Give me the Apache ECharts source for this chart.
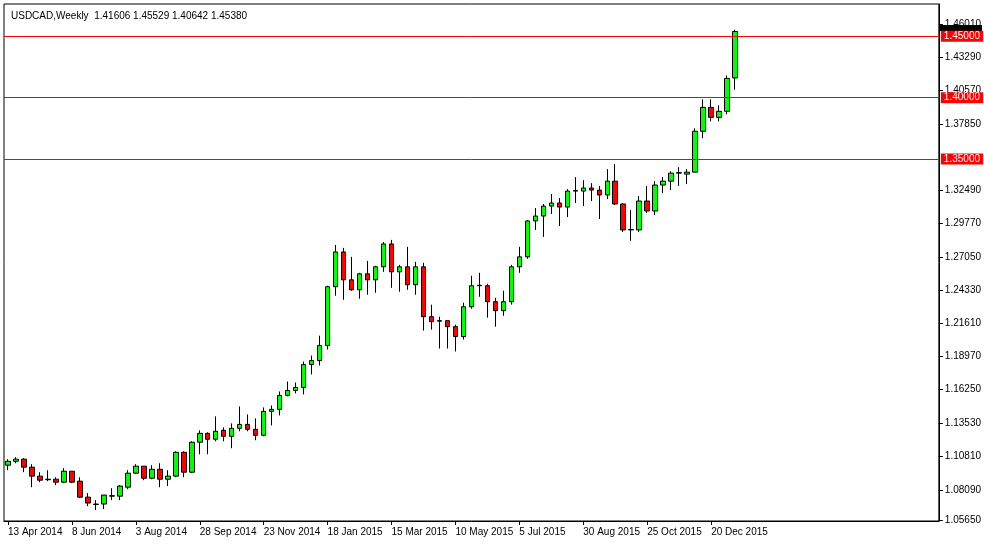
<!DOCTYPE html>
<html><head><meta charset="utf-8">
<script src="https://cdn.jsdelivr.net/npm/echarts@6/dist/echarts.min.js"></script>
<style>html,body{margin:0;padding:0;background:#fff}#c{width:984px;height:545px}</style>
</head><body><div id="c"></div>
<script>
// weekly candles [open, close, low, high], starting week of 13 Apr 2014
const candles = [
[1.1010,1.1042,1.0969,1.1059],[1.1042,1.1059,1.1026,1.1075],[1.1059,1.0994,1.0953,1.1067],[1.0994,1.0921,1.0831,1.1018],
[1.0921,1.0888,1.0872,1.0953],[1.0896,1.0892,1.0880,1.0969],[1.0896,1.0872,1.0848,1.0912],[1.0872,1.0961,1.0864,1.0986],
[1.0961,1.0872,1.0864,1.0961],[1.0880,1.0750,1.0742,1.0912],[1.0750,1.0702,1.0677,1.0783],[1.0694,1.0690,1.0645,1.0726],
[1.0694,1.0767,1.0653,1.0767],[1.0758,1.0762,1.0726,1.0823],[1.0758,1.0840,1.0726,1.0848],[1.0831,1.0945,1.0815,1.0969],
[1.0945,1.1002,1.0937,1.1018],[1.1002,1.0904,1.0888,1.1002],[1.0904,1.0977,1.0896,1.1010],[1.0977,1.0896,1.0831,1.1026],
[1.0896,1.0921,1.0840,1.0969],[1.0921,1.1115,1.0912,1.1123],[1.1115,1.0953,1.0912,1.1123],[1.0953,1.1197,1.0945,1.1205],
[1.1197,1.1269,1.1099,1.1294],[1.1269,1.1221,1.1099,1.1277],[1.1221,1.1286,1.1205,1.1407],[1.1294,1.1245,1.1205,1.1318],
[1.1245,1.1310,1.1148,1.1350],[1.1310,1.1342,1.1286,1.1488],[1.1342,1.1302,1.1286,1.1423],[1.1302,1.1253,1.1213,1.1391],
[1.1253,1.1448,1.1245,1.1480],[1.1448,1.1464,1.1334,1.1496],[1.1464,1.1578,1.1415,1.1610],[1.1578,1.1618,1.1570,1.1691],
[1.1618,1.1642,1.1594,1.1683],[1.1642,1.1829,1.1586,1.1853],[1.1829,1.1861,1.1748,1.1902],[1.1861,1.1983,1.1821,1.2064],
[1.1983,1.2462,1.1951,1.2470],[1.2462,1.2745,1.2389,1.2802],[1.2745,1.2518,1.2356,1.2778],[1.2518,1.2437,1.2429,1.2705],
[1.2437,1.2567,1.2364,1.2575],[1.2567,1.2518,1.2397,1.2672],[1.2518,1.2624,1.2413,1.2632],[1.2624,1.2810,1.2583,1.2826],
[1.2810,1.2583,1.2453,1.2843],[1.2583,1.2624,1.2421,1.2640],[1.2624,1.2478,1.2437,1.2786],[1.2478,1.2624,1.2397,1.2664],
[1.2624,1.2218,1.2105,1.2656],[1.2218,1.2178,1.2113,1.2316],[1.2186,1.2182,1.1959,1.2218],[1.2186,1.2137,1.1959,1.2186],
[1.2137,1.2056,1.1935,1.2153],[1.2056,1.2299,1.2032,1.2332],[1.2299,1.2470,1.2283,1.2551],[1.2470,1.2474,1.2380,1.2575],
[1.2470,1.2340,1.2210,1.2486],[1.2340,1.2267,1.2137,1.2372],[1.2267,1.2340,1.2226,1.2429],[1.2340,1.2624,1.2316,1.2640],
[1.2624,1.2705,1.2575,1.2786],[1.2705,1.2997,1.2689,1.3005],[1.2997,1.3037,1.2924,1.3102],[1.3037,1.3118,1.2867,1.3135],
[1.3118,1.3143,1.3054,1.3216],[1.3143,1.3110,1.2956,1.3183],[1.3110,1.3240,1.3029,1.3256],[1.3240,1.3244,1.3143,1.3354],
[1.3240,1.3265,1.3118,1.3329],[1.3265,1.3248,1.3159,1.3305],[1.3248,1.3208,1.3013,1.3281],[1.3208,1.3321,1.3175,1.3419],
[1.3321,1.3135,1.3127,1.3459],[1.3135,1.2924,1.2907,1.3143],[1.2924,1.2928,1.2835,1.3086],[1.2924,1.3159,1.2907,1.3200],
[1.3159,1.3078,1.3062,1.3281],[1.3078,1.3289,1.3045,1.3321],[1.3289,1.3321,1.3224,1.3354],[1.3321,1.3386,1.3248,1.3402],
[1.3386,1.3390,1.3281,1.3435],[1.3378,1.3394,1.3297,1.3419],[1.3394,1.3727,1.3394,1.3751],[1.3727,1.3921,1.3670,1.3986],
[1.3921,1.3840,1.3808,1.3986],[1.3840,1.3889,1.3808,1.3938],[1.3889,1.4157,1.3865,1.4181],[1.41606,1.45380,1.40642,1.45529]
];
const yTicks = [1.05650,1.08090,1.10810,1.13530,1.16250,1.18970,1.21610,1.24330,1.27050,1.29770,1.32490,1.37850,1.40570,1.43290,1.46010];
const levels = [1.35,1.40,1.45];
const lastPrice = 1.45380;
const titleText = 'USDCAD,Weekly  1.41606 1.45529 1.40642 1.45380';
const totalSlots = 117;
const mon = ['Jan','Feb','Mar','Apr','May','Jun','Jul','Aug','Sep','Oct','Nov','Dec'];
const cats = [];
for (let i=0;i<totalSlots;i++){ const d=new Date(Date.UTC(2014,3,13+7*i)); cats.push(d.getUTCDate()+' '+mon[d.getUTCMonth()]+' '+d.getUTCFullYear()); }
const data = cats.map((c,i)=> i<candles.length ? candles[i] : '-');
const FONT = 'Liberation Sans, Arial';
const chart = echarts.init(document.getElementById('c'));
function levelSeries(v, color, withLabel){
  return {type:'line',data:cats.map(()=>'-'),symbol:'none',color:color,lineStyle:{color:color},silent:true,
    markLine:{symbol:'none',silent:true,animation:false,
      lineStyle:{color:color,width:1,type:'solid',opacity:1},
      data:[{yAxis:v}],
      label:withLabel?{show:true,position:'end',formatter:v.toFixed(5),backgroundColor:'#ff0000',color:'#fff',padding:[1,3,0,3],fontSize:10,fontFamily:FONT,distance:2}:{show:false}}};
}
const series = [levelSeries(lastPrice,'#c0c0c0',false)];
levels.forEach(v=>series.push(levelSeries(v,'#ff0000',true)));
series.push({type:'candlestick',data:data,barWidth:5,
    itemStyle:{color:'#00ff00',color0:'#ff0000',borderColor:'#000',borderColor0:'#000',borderWidth:1}});
chart.setOption({
  animation:false,
  backgroundColor:'#fff',
  title:{text:titleText,left:6,top:6,textStyle:{fontSize:10,fontWeight:'normal',color:'#000',fontFamily:FONT}},
  grid:{left:4,right:44,top:4,bottom:24,show:true,borderColor:'#000',borderWidth:1},
  xAxis:{type:'category',data:cats,boundaryGap:true,
    axisLine:{lineStyle:{color:'#000'}},
    axisTick:{show:true,alignWithLabel:true,interval:(i)=>i%8===0&&i<=88,length:4,lineStyle:{color:'#000'}},
    axisLabel:{interval:(i)=>i%8===0&&i<=88,align:'left',margin:6,color:'#000',fontSize:10,fontFamily:FONT},
    splitLine:{show:false}},
  yAxis:{type:'value',position:'right',min:1.0556,max:1.4762,scale:true,
    axisLine:{show:true,lineStyle:{color:'#000'}},
    axisTick:{show:true,customValues:yTicks,length:4,lineStyle:{color:'#000'}},
    axisLabel:{customValues:yTicks,formatter:v=>v.toFixed(5),color:'#000',fontSize:10,fontFamily:FONT,margin:6},
    splitLine:{show:false}},
  series:series,
  graphic:[{type:'rect',right:2,top:25,shape:{x:0,y:0,width:42,height:6},style:{fill:'#000'}}]
});
</script></body></html>
